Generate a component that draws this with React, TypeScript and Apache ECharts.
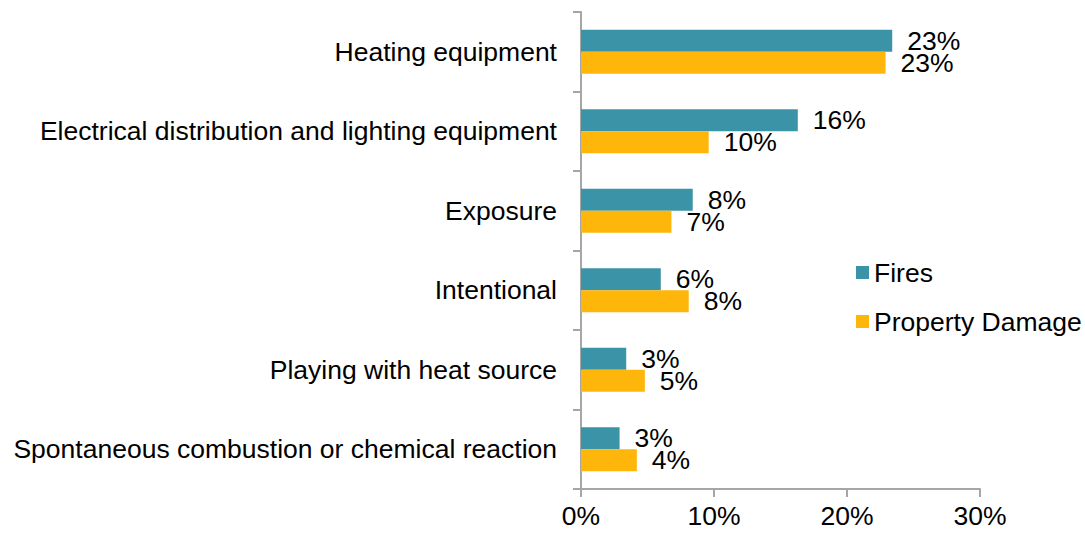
import React, { useEffect, useRef } from "react";
import * as echarts from "echarts";

const categories = [
  "Heating equipment",
  "Electrical distribution and lighting equipment",
  "Exposure",
  "Intentional",
  "Playing with heat source",
  "Spontaneous combustion or chemical reaction",
];
const fires = [23.4, 16.3, 8.4, 6.0, 3.4, 2.9];
const propertyDamage = [22.9, 9.6, 6.8, 8.1, 4.8, 4.2];
const xTicks = { min: 0, max: 30, interval: 10 };

const FONT = "'Liberation Sans', Arial, sans-serif";
const FS = 26.5;
const TEAL = "#3B93A8";
const GOLD = "#FFB60B";

export default function App() {
  const ref = useRef<HTMLDivElement>(null);
  useEffect(() => {
    if (!ref.current) return;
    const chart = echarts.init(ref.current, undefined, { renderer: "svg" });
    const label = {
      show: true,
      position: "right" as const,
      distance: 15,
      color: "#000",
      fontSize: FS,
      lineHeight: 22,
      fontFamily: FONT,
      formatter: (p: any) => Math.round(p.value) + "%",
    };
    chart.setOption({
      animation: false,
      textStyle: { fontFamily: FONT },
      grid: { left: 581, top: 12, right: 105, bottom: 44, containLabel: false },
      legend: {
        orient: "vertical",
        left: 851,
        top: 254,
        itemWidth: 13,
        itemHeight: 13,
        itemGap: 22,
        icon: "rect",
        textStyle: { fontSize: FS, color: "#000", fontFamily: FONT },
        data: ["Fires", "Property Damage"],
      },
      xAxis: {
        type: "value",
        min: xTicks.min,
        max: xTicks.max,
        interval: xTicks.interval,
        splitLine: { show: false },
        axisLine: { show: true, lineStyle: { color: "#a6a6a6", width: 2 } },
        axisTick: { show: true, length: 8, lineStyle: { color: "#a6a6a6", width: 2 } },
        axisLabel: {
          formatter: "{value}%",
          fontSize: FS,
          lineHeight: 24,
          color: "#000",
          fontFamily: FONT,
          margin: 15,
        },
      },
      yAxis: {
        type: "category",
        inverse: true,
        data: categories,
        axisLine: { show: true, lineStyle: { color: "#a6a6a6", width: 2 } },
        axisTick: { show: true, length: 8, lineStyle: { color: "#a6a6a6", width: 2 } },
        axisLabel: { fontSize: FS, color: "#000", fontFamily: FONT, margin: 24 },
      },
      series: [
        {
          name: "Fires",
          type: "bar",
          data: fires,
          barWidth: 22,
          barGap: "0%",
          itemStyle: { color: TEAL },
          label,
        },
        {
          name: "Property Damage",
          type: "bar",
          data: propertyDamage,
          barWidth: 22,
          barGap: "0%",
          itemStyle: { color: GOLD },
          label,
        },
      ],
    });
    return () => chart.dispose();
  }, []);
  return (
    <div
      ref={ref}
      style={{ position: "absolute", left: 0, top: 0, width: 1085, height: 533 }}
    />
  );
}
